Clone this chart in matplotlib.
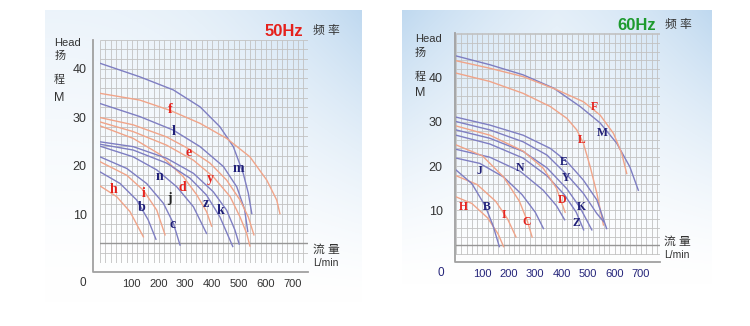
import numpy as np
import matplotlib.pyplot as plt
from matplotlib.transforms import ScaledTranslation

plt.rcParams['font.family'] = ['Liberation Sans', 'Noto Sans CJK SC', 'DejaVu Sans']

# ---- 50 Hz pump curves: flow (L/min) vs head (m) ----
m_q = [0, 149, 274, 374, 448, 498, 535, 554, 567]
m_h = [41.1, 38.3, 35.6, 32.1, 28.0, 23.9, 18.4, 14.3, 10.1]
f_q = [0, 149, 261, 374, 473, 560, 623, 660, 672]
f_h = [34.9, 33.5, 31.4, 28.7, 25.6, 21.8, 17.0, 12.9, 10.1]
l_q = [0, 149, 274, 374, 461, 511, 540, 552]
l_h = [32.8, 30.1, 27.3, 23.9, 19.8, 15.6, 11.0, 6.4]
e_q = [0, 124, 249, 330, 411, 473, 523, 554, 575]
e_h = [29.9, 28.4, 25.9, 23.5, 20.5, 17.0, 12.9, 9.4, 5.7]
y_q = [0, 124, 249, 349, 423, 486, 523, 548, 560]
y_h = [29.0, 27.0, 24.2, 21.1, 17.7, 13.6, 9.4, 6.0, 3.4]
d_q = [0, 124, 224, 311, 361, 398, 417]
d_h = [28.2, 25.6, 22.3, 17.7, 14.0, 10.5, 7.5]
k_q = [0, 124, 249, 349, 423, 473, 504, 520]
k_h = [24.9, 23.9, 21.5, 18.4, 14.6, 10.8, 6.7, 3.8]
z_q = [0, 124, 249, 336, 398, 448, 496]
z_h = [24.4, 23.2, 20.5, 17.4, 13.9, 9.4, 3.3]
n_q = [0, 124, 212, 287, 349, 398]
n_h = [24.0, 21.8, 19.1, 15.6, 11.5, 6.0]
c_q = [0, 100, 174, 237, 274, 299]
c_h = [21.8, 19.4, 16.3, 12.2, 8.1, 3.6]
i_q = [0, 100, 162, 212, 243]
i_h = [20.8, 18.0, 14.9, 10.8, 5.7]
b_q = [0, 75, 137, 180, 209]
b_h = [18.7, 16.3, 12.9, 8.8, 4.8]
h_q = [0, 62, 112, 162]
h_h = [15.8, 13.6, 10.5, 5.3]

# ---- 60 Hz pump curves ----
M_q = [0, 128, 254, 369, 470, 545, 608, 658, 690]
M_h = [45.0, 43.0, 40.7, 37.7, 33.5, 29.8, 25.2, 19.8, 14.5]
F_q = [0, 128, 254, 382, 482, 545, 596, 627, 646]
F_h = [43.9, 42.2, 40.3, 37.3, 34.6, 31.6, 27.4, 22.9, 18.3]
L_q = [0, 128, 254, 357, 420, 457, 482, 508, 533, 558]
L_h = [41.1, 39.2, 36.5, 33.5, 30.8, 28.2, 25.2, 19.8, 13.8, 6.6]
E_q = [0, 128, 254, 357, 420, 482, 533, 570]
E_h = [31.1, 29.3, 27.0, 24.0, 21.0, 16.8, 12.3, 5.8]
Y_q = [0, 128, 254, 344, 420, 482, 533, 560]
Y_h = [30.1, 28.2, 25.5, 22.5, 18.0, 13.8, 9.2, 7.3]
K_q = [0, 128, 254, 344, 420, 470, 514]
K_h = [28.2, 26.3, 23.3, 19.6, 14.8, 10.5, 5.5]
Z_q = [0, 128, 254, 344, 410, 455, 483]
Z_h = [27.0, 25.0, 21.8, 17.8, 13.5, 9.5, 5.5]
D_q = [0, 128, 254, 330, 380, 413]
D_h = [29.1, 27.0, 23.4, 19.5, 15.0, 9.5]
N_q = [0, 128, 243, 330, 380, 411]
N_h = [23.8, 22.0, 18.8, 14.5, 11.0, 7.8]
J_q = [0, 90, 180, 250, 300, 331]
J_h = [21.8, 20.6, 17.5, 13.5, 9.5, 5.8]
C_q = [0, 100, 180, 240, 270, 288]
C_h = [24.8, 22.3, 17.5, 12.0, 7.5, 3.9]
I_q = [0, 80, 150, 195, 227]
I_h = [17.8, 15.8, 12.0, 8.0, 3.9]
H_q = [0, 60, 120, 160, 180]
H_h = [13.0, 11.5, 8.2, 4.5, 1.7]
B_q = [0, 60, 110, 140, 164]
B_h = [19.1, 16.0, 11.0, 6.5, 1.7]

# curve letters and where they sit
lab50 = ['f', 'l', 'e', 'm', 'y', 'n', 'd', 'h', 'i', 'j', 'b', 'z', 'k', 'c']
lab50_q = [264, 274, 332, 517, 411, 222, 307, 50, 162, 259, 154, 396, 451, 270]
lab50_h = [31.6, 27.0, 22.7, 19.3, 17.4, 17.8, 15.4, 15.1, 14.3, 13.2, 11.3, 12.1, 10.8, 7.9]
lab60 = ['F', 'L', 'M', 'E', 'Y', 'N', 'J', 'D', 'K', 'Z', 'H', 'B', 'I', 'C']
lab60_q = [524, 476, 555, 407, 417, 243, 90, 403, 474, 457, 29, 115, 183, 266]
lab60_h = [33.3, 25.9, 27.6, 21.0, 17.3, 19.5, 18.9, 12.3, 10.8, 7.1, 10.6, 10.8, 8.9, 7.3]

flow_ticks = [100, 200, 300, 400, 500, 600, 700]
head_ticks = [10, 20, 30, 40]

ORANGE = '#f0a489'
BLUE = '#7e7ec2'
RED = '#e5211c'
NAVY = '#1f1f78'

curves50 = [(m_q, m_h, BLUE), (f_q, f_h, ORANGE), (l_q, l_h, BLUE), (e_q, e_h, ORANGE),
            (y_q, y_h, ORANGE), (d_q, d_h, ORANGE), (k_q, k_h, BLUE), (z_q, z_h, BLUE),
            (n_q, n_h, BLUE), (c_q, c_h, BLUE), (i_q, i_h, ORANGE), (b_q, b_h, BLUE),
            (h_q, h_h, ORANGE)]
curves60 = [(M_q, M_h, BLUE), (F_q, F_h, ORANGE), (L_q, L_h, ORANGE), (E_q, E_h, BLUE),
            (Y_q, Y_h, BLUE), (K_q, K_h, BLUE), (Z_q, Z_h, BLUE), (D_q, D_h, ORANGE),
            (N_q, N_h, BLUE), (J_q, J_h, BLUE), (C_q, C_h, ORANGE), (I_q, I_h, ORANGE),
            (H_q, H_h, ORANGE), (B_q, B_h, BLUE)]


def label_color(s):
    if s in 'fedyihFLDHIC':
        return RED
    if s == 'j':
        return '#222222'
    return NAVY


fig = plt.figure(figsize=(7.5, 3.26), dpi=100)

# background panels in pixel coordinates
bg = fig.add_axes([0, 0, 1, 1])
bg.set_xlim(0, 750)
bg.set_ylim(326, 0)
bg.axis('off')


def panel_bg(x0, x1, y0, y1, both_sides):
    u = np.linspace(0, 1, 240)[None, :]
    v = np.linspace(0, 1, 240)[:, None]
    side = np.maximum(u, 1 - u) if both_sides else u
    w = np.clip((1 - v) ** 1.4 * (0.3 + 0.7 * side ** 2.5), 0, 1)
    blue = np.array([0.75, 0.85, 0.94])
    img = 1 - w[..., None] * (1 - blue)
    bg.imshow(img, extent=(x0, x1, y1, y0), aspect='auto', interpolation='bilinear')


panel_bg(45, 362, 10, 303, False)
panel_bg(402, 712, 10, 285, True)
bg.set_xlim(0, 750)
bg.set_ylim(326, 0)


def setup(ax, xmax, ymin, ymax, heavy, offx, offy, xcol):
    ax.set_xlim(0, xmax)
    ax.set_ylim(ymin, ymax)
    ax.set_facecolor('none')
    for s in ax.spines.values():
        s.set_visible(False)
    ax.vlines(np.append(np.arange(0, xmax, 20), xmax), ymin, ymax, color='#c2c2c2', lw=0.6)
    ax.hlines(np.append(np.arange(0, ymax, 2), ymax), 0, xmax, color='#c2c2c2', lw=0.6)
    ax.axhline(heavy, color='#969696', lw=1.0)
    ax.plot([-offx, -offx, 1], [1, -offy, -offy], transform=ax.transAxes,
            clip_on=False, color='#a0a0a0', lw=1.3)
    ax.set_xticks(flow_ticks)
    ax.set_yticks(head_ticks)
    ax.tick_params(length=0)
    ax.tick_params(axis='y', pad=9.5, labelsize=9, labelcolor='#333333')
    ax.tick_params(axis='x', labelsize=8, labelcolor=xcol)


ax50 = fig.add_axes([100 / 750, (326 - 263) / 326, 208 / 750, 223 / 326])
setup(ax50, 777, -0.1, 45.9, 4, 0.034, 0.040, '#333333')
ax50.tick_params(axis='x', pad=11.5)
for q, h, col in curves50:
    ax50.plot(q, h, color=col, lw=1.0)
for s, q, h in zip(lab50, lab50_q, lab50_h):
    ax50.text(q, h, s, ha='center', va='center', fontsize=10, fontweight='bold',
              family='Liberation Serif', color=label_color(s))
shift = ScaledTranslation(5 / 100, 0, fig.dpi_scale_trans)
for t in ax50.get_xticklabels():
    t.set_transform(t.get_transform() + shift)

ax60 = fig.add_axes([456 / 750, (326 - 255) / 326, 204 / 750, 222 / 326])
setup(ax60, 772, -0.2, 50.2, 2, 0.005, 0.0315, '#25257a')
ax60.tick_params(axis='x', pad=10)
for q, h, col in curves60:
    ax60.plot(q, h, color=col, lw=1.0)
for s, q, h in zip(lab60, lab60_q, lab60_h):
    ax60.text(q, h, s, ha='center', va='center', fontsize=8.5, fontweight='bold',
              family='Liberation Serif', color=label_color(s))

# titles and axis captions
txt = dict(color='#333333', va='center')
bg.text(265, 31, '50Hz', color=RED, fontsize=12, fontweight='bold', va='center')
bg.text(313, 31, '频 率', fontsize=8.5, **txt)
bg.text(54, 43, 'Head', fontsize=8, **txt)
bg.text(55, 56, '扬', fontsize=8, **txt)
bg.text(54, 80, '程', fontsize=8, **txt)
bg.text(54, 98, 'M', fontsize=9, **txt)
bg.text(83, 283, '0', fontsize=8.5, ha='center', **txt)
bg.text(313, 250, '流 量', fontsize=8.5, **txt)
bg.text(313, 263, 'L/min', fontsize=7.5, **txt)

bg.text(617, 25, '60Hz', color='#1d9a2e', fontsize=12, fontweight='bold', va='center')
bg.text(665, 25, '频 率', fontsize=8.5, **txt)
bg.text(415, 39, 'Head', fontsize=8, **txt)
bg.text(415, 53, '扬', fontsize=8, **txt)
bg.text(415, 77, '程', fontsize=8, **txt)
bg.text(415, 93, 'M', fontsize=9, **txt)
bg.text(441, 273, '0', fontsize=8.5, ha='center', color='#25257a', va='center')
bg.text(664, 242, '流 量', fontsize=8.5, **txt)
bg.text(664, 255, 'L/min', fontsize=7.5, **txt)

fig.savefig('out.png', dpi=100, facecolor='white')
